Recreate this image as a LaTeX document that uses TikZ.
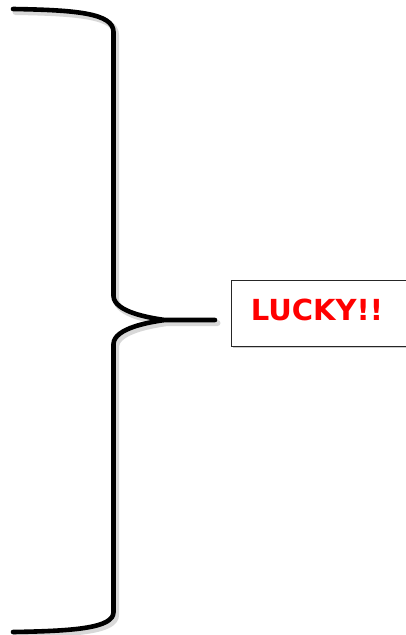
\documentclass[tikz,border=0pt]{standalone}
\usepackage{fontspec}
\newfontfamily\lucky{DejaVu Sans}
\tikzset{
  bracepath/.style={line width=4.6pt, line cap=round, line join=round},
  braceshadow/.style={line width=6pt, line cap=round, line join=round, draw=black!25, opacity=0.6},
  luckybox/.style={draw=black!85, line width=1.3pt, minimum width=180pt, minimum height=66pt, anchor=north west, inner sep=0pt},
  luckytext/.style={text=red, font=\lucky\bfseries\fontsize{29}{30}\selectfont, inner sep=0pt}
}
\begin{document}
\begin{tikzpicture}[x=1pt,y=-1pt]
\useasboundingbox (0,0) rectangle (405,635);
\fill[white] (0,0) rectangle (405,635);
% shadow of the brace
\begin{scope}[shift={(2.5,3)}]
\draw[braceshadow] (13,9) .. controls (75,10) and (113.5,13) .. (113.5,32)
  -- (113.5,296) .. controls (114,312) and (150,318) .. (165,320) -- (215,320)
  -- (165,320) .. controls (150,322) and (114,328) .. (113.5,344)
  -- (113.5,612) .. controls (113.5,628) and (75,631) .. (13,632);
\end{scope}
% brace
\draw[bracepath] (13,9) .. controls (75,10) and (113.5,13) .. (113.5,32)
  -- (113.5,296) .. controls (114,312) and (150,318) .. (165,320) -- (215,320)
  -- (165,320) .. controls (150,322) and (114,328) .. (113.5,344)
  -- (113.5,612) .. controls (113.5,628) and (75,631) .. (13,632);
% box
\fill[black!20] (233,282) rectangle (412,348);
\node[luckybox, fill=white] (box) at (231,280) {};
\node[luckytext] (lucky) at (317,309.5) {LUCKY!!};
\end{tikzpicture}
\end{document}
